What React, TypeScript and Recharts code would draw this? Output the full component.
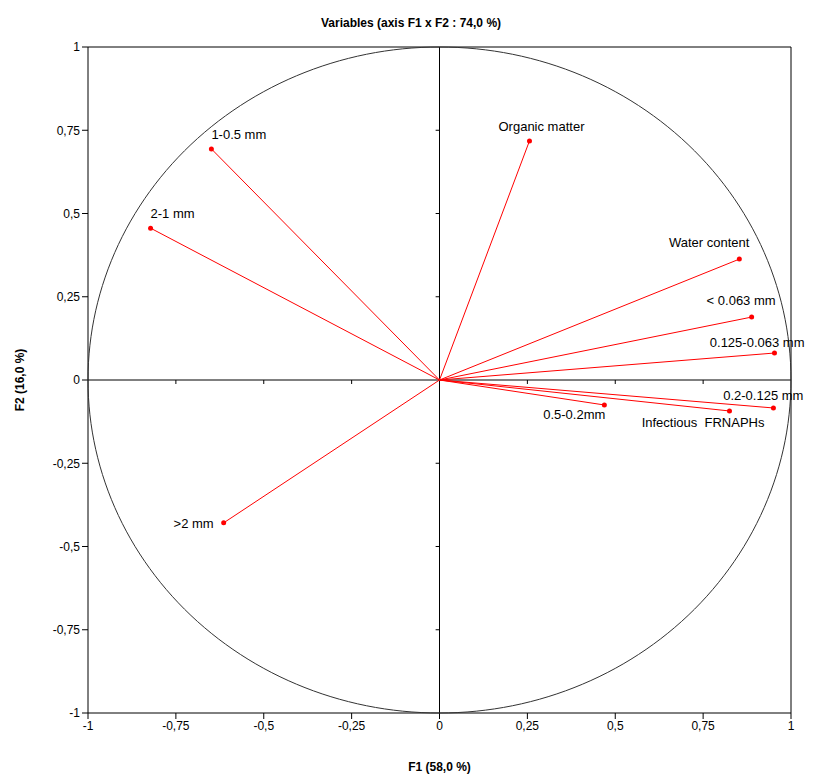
import React from "react";
import { ScatterChart, Scatter, XAxis, YAxis, ReferenceLine, ReferenceArea, LabelList } from "recharts";

const names = ["1-0.5 mm", "2-1 mm", "Organic matter", "Water content", "< 0.063 mm", "0.125-0.063 mm", "0.2-0.125 mm", "Infectious  FRNAPHs", "0.5-0.2mm", ">2 mm"];
const f1 = [-0.649, -0.822, 0.256, 0.853, 0.888, 0.953, 0.95, 0.825, 0.469, -0.614];
const f2 = [0.694, 0.456, 0.718, 0.363, 0.189, 0.081, -0.084, -0.093, -0.075, -0.429];
const ticks = [-1, -0.75, -0.5, -0.25, 0, 0.25, 0.5, 0.75, 1];

// label placement relative to the arrow tip
const labelStyle: { dx: number; dy: number; anchor: string }[] = [
  { dx: 0, dy: -10, anchor: "start" },
  { dx: 0, dy: -10, anchor: "start" },
  { dx: 12, dy: -10, anchor: "middle" },
  { dx: 10, dy: -12, anchor: "end" },
  { dx: 24, dy: -12, anchor: "end" },
  { dx: 30, dy: -6, anchor: "end" },
  { dx: 30, dy: -8, anchor: "end" },
  { dx: 35, dy: 16, anchor: "end" },
  { dx: 1, dy: 14, anchor: "end" },
  { dx: -10, dy: 5, anchor: "end" },
];

const circle = Array.from({ length: 241 }, (_, i) => {
  const a = (i / 240) * 2 * Math.PI;
  return { x: Math.cos(a), y: Math.sin(a) };
});

const fmt = (v: number) => String(v).replace(".", ",");
const font = "'Liberation Sans', Arial, sans-serif";

export default function App() {
  return (
    <div style={{ position: "relative", width: 806, height: 767, fontFamily: font }}>
      <div style={{ position: "absolute", top: 8, width: 806, textAlign: "center", fontSize: 12, fontWeight: "bold" }}>
        Variables (axis F1 x F2 : 74,0 %)
      </div>
      <div style={{ position: "absolute", top: 752, left: 80, width: 703, textAlign: "center", fontSize: 12, fontWeight: "bold" }}>
        F1 (58,0 %)
      </div>
      <div style={{ position: "absolute", left: 12, top: 372, transform: "translate(-50%,-50%) rotate(-90deg)", fontSize: 12, fontWeight: "bold", whiteSpace: "nowrap" }}>
        F2 (16,0 %)
      </div>
      <ScatterChart width={806} height={767} margin={{ top: 39, right: 23, bottom: 32, left: 30 }}>
        <XAxis type="number" dataKey="x" domain={[-1, 1]} ticks={ticks} tickFormatter={fmt} height={30} axisLine={false} tickLine={{ stroke: "#000" }} tick={{ fill: "#000", fontSize: 12 }} />
        <YAxis type="number" dataKey="y" domain={[-1, 1]} ticks={ticks} tickFormatter={fmt} width={50} axisLine={false} tickLine={{ stroke: "#000" }} tick={{ fill: "#000", fontSize: 12 }} />
        <ReferenceArea x1={-1} x2={1} y1={-1} y2={1} fill="none" stroke="#000" strokeWidth={1} />
        <ReferenceLine x={0} stroke="#000" />
        <ReferenceLine y={0} stroke="#000" />
        {ticks.filter((t) => t !== 0 && Math.abs(t) !== 1).map((t) => (
          <ReferenceLine key={"tx" + t} segment={[{ x: t, y: -0.012 }, { x: t, y: 0 }]} stroke="#000" />
        ))}
        {ticks.filter((t) => t !== 0 && Math.abs(t) !== 1).map((t) => (
          <ReferenceLine key={"ty" + t} segment={[{ x: -0.011, y: t }, { x: 0, y: t }]} stroke="#000" />
        ))}
        <Scatter data={circle} line={{ stroke: "#333", strokeWidth: 1 }} shape={() => null} isAnimationActive={false} />
        {names.map((n, i) => (
          <Scatter
            key={n}
            data={[{ x: 0, y: 0 }, { x: f1[i], y: f2[i], name: n }]}
            line={{ stroke: "#ff0000", strokeWidth: 1 }}
            isAnimationActive={false}
            shape={(p: any) => (p.payload.name ? <circle cx={p.cx} cy={p.cy} r={2.5} fill="#ff0000" /> : <g />)}
          >
            <LabelList
              dataKey="name"
              content={(p: any) =>
                p.value ? (
                  <text x={p.x + p.width / 2 + labelStyle[i].dx} y={p.y + p.height / 2 + labelStyle[i].dy} textAnchor={labelStyle[i].anchor as any} fontSize={13} fill="#000" fontFamily={font} style={{ whiteSpace: "pre" }}>
                    {p.value}
                  </text>
                ) : null
              }
            />
          </Scatter>
        ))}
      </ScatterChart>
    </div>
  );
}
